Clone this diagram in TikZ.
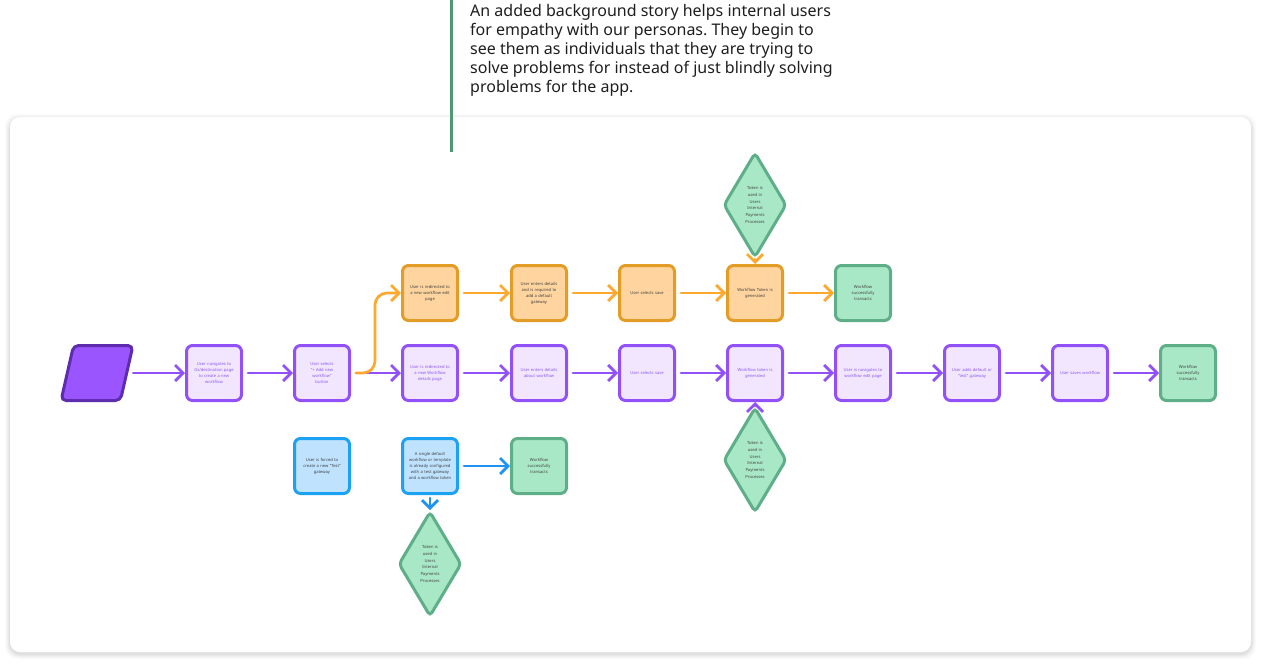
\documentclass[tikz,border=0pt]{standalone}
\usepackage{fontspec}
\setmainfont{Noto Sans}
\usetikzlibrary{arrows.meta,shapes.geometric}
\definecolor{pS}{HTML}{9150F8}
\definecolor{pF}{HTML}{F2E6FF}
\definecolor{pT}{HTML}{8A55EE}
\definecolor{paraF}{HTML}{9B55FF}
\definecolor{paraS}{HTML}{5E2DAE}
\definecolor{oS}{HTML}{E39C26}
\definecolor{oF}{HTML}{FFD49E}
\definecolor{oA}{HTML}{FFA82E}
\definecolor{gS}{HTML}{5EAE88}
\definecolor{gF}{HTML}{A9E8C7}
\definecolor{bS}{HTML}{1BA2F2}
\definecolor{bF}{HTML}{BFE2FF}
\definecolor{bA}{HTML}{1E93F2}
\definecolor{lineG}{HTML}{4F9A70}
\definecolor{txt}{HTML}{1E1E1E}
\frenchspacing
\begin{document}
\begin{tikzpicture}[x=1pt,y=-1pt,
  box/.style={rounded corners=6pt, line width=3pt, minimum width=55pt, minimum height=55pt,
    text width=52pt, align=center, inner sep=0pt, font=\fontsize{4.1}{6}\selectfont},
  pbox/.style={box, draw=pS, fill=pF, text=pT},
  obox/.style={box, draw=oS, fill=oF, text=txt!85},
  gbox/.style={box, draw=gS, fill=gF, text=txt!85},
  bbox/.style={box, draw=bS, fill=bF, text=txt!85},
  diam/.style={diamond, shape aspect=0.5, draw=gS, fill=gF, line width=3pt, minimum width=63pt, minimum height=105pt,
    rounded corners=4pt, inner sep=0pt, text width=24pt, align=center, text=txt!85,
    font=\fontsize{4.1}{6.8}\selectfont},
  arr/.style={line width=2.7pt, line cap=round, shorten <=5pt,
    -{Straight Barb[length=8pt,width=16pt,line width=2.7pt]}},
  parr/.style={arr, draw=pS},
  oarr/.style={arr, draw=oA},
  barr/.style={arr, draw=bA}]
\useasboundingbox (0,0) rectangle (1262,667);
% card with shadow
\foreach \i/\o in {5/0.015,4/0.02,3/0.025,2/0.03,1/0.035}
  \fill[black,opacity=\o,rounded corners=12pt] (10-\i,117-\i+2) rectangle (1251+\i,652+\i+2);
\fill[white,rounded corners=10pt] (10,117) rectangle (1251,652);
% annotation
\coordinate (lt) at (451,0);
\coordinate (lb) at (451,152);
\draw[lineG,line width=3pt] (lt) -- (lb);
\node[anchor=north west, inner sep=0pt, align=left, text=txt,
  font=\fontsize{16}{19}\selectfont] (note) at (470,4)
  {An added background story helps internal users\\
   for empathy with our personas. They begin to\\
   see them as individuals that they are trying to\\
   solve problems for instead of just blindly solving\\
   problems for the app.};
% start parallelogram
\node[trapezium, trapezium left angle=75, trapezium right angle=105, trapezium stretches=true,
  minimum width=72pt, minimum height=55pt, fill=paraF, draw=paraS, line width=3pt,
  rounded corners=5pt] (st) at (97,373) {};
% purple row
\node[pbox] (b1) at (214,373) {User navigates to\\ Gs/destination page\\ to create a new\\ workflow};
\node[pbox] (b2) at (322,373) {User selects\\ ``+ Add new\\ workflow''\\ button};
\node[pbox] (b3) at (430,373) {User is redirected to\\ a new Workflow\\ details page};
\node[pbox] (b4) at (539,373) {User enters details\\ about workflow};
\node[pbox] (b5) at (647,373) {User selects save};
\node[pbox] (b6) at (755,373) {Workflow token is\\ generated};
\node[pbox] (b7) at (863,373) {User is navigates to\\ workflow edit page};
\node[pbox] (b8) at (972,373) {User adds default or\\ ``test'' gateway};
\node[pbox] (b9) at (1080,373) {User saves workflow};
\node[gbox] (b10) at (1188,373) {Workflow\\ successfully\\ transacts};
% orange row
\node[obox] (o1) at (430,293) {User is redirected to\\ a new workflow edit\\ page};
\node[obox] (o2) at (539,293) {User enters details\\ and is required to\\ add a default\\ gateway};
\node[obox] (o3) at (647,293) {User selects save};
\node[obox] (o4) at (755,293) {Workflow Token is\\ generated};
\node[gbox] (o5) at (863,293) {Workflow\\ successfully\\ transacts};
% blue row
\node[bbox] (c1) at (322,466) {User is forced to\\ create a new ``Test''\\ gateway};
\node[bbox] (c2) at (430,466) {A single default\\ workflow or template\\ is already configured\\ with a test gateway\\ and a workflow token};
\node[gbox] (c3) at (539,466) {Workflow\\ successfully\\ transacts};
% diamonds
\node[diam] (d1) at (755,205) {Token is\\ used in\\ Users\\ Internal\\ Payments\\ Processes};
\node[diam] (d2) at (755,460) {Token is\\ used in\\ Users\\ Internal\\ Payments\\ Processes};
\node[diam] (d3) at (430,564) {Token is\\ used in\\ Users\\ Internal\\ Payments\\ Processes};
% purple arrows
\draw[parr] (st.east) -- (b1.west);
\draw[parr] (b1) -- (b2);
\draw[parr] (b2) -- (b3);
\draw[parr] (b3) -- (b4);
\draw[parr] (b4) -- (b5);
\draw[parr] (b5) -- (b6);
\draw[parr] (b6) -- (b7);
\draw[parr] (b7) -- (b8);
\draw[parr] (b8) -- (b9);
\draw[parr] (b9) -- (b10);
\draw[parr, shorten <=0pt] (d2.north) -- (b6.south);
% orange arrows
\draw[oarr, rounded corners=12pt] (b2.east) -- ([xshift=24pt]b2.east) |- (o1.west);
\draw[oarr] (o1) -- (o2);
\draw[oarr] (o2) -- (o3);
\draw[oarr] (o3) -- (o4);
\draw[oarr] (o4) -- (o5);
\draw[oarr, shorten <=0pt] (d1.south) -- (o4.north);
% blue arrows
\draw[barr] (c2) -- (c3);
\draw[barr, shorten <=3pt] (c2.south) -- (d3.north);
\end{tikzpicture}
\end{document}
